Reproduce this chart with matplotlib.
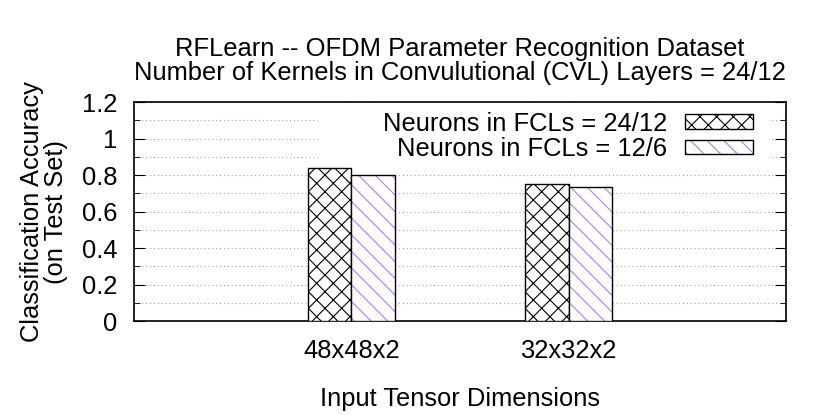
import numpy as np
import matplotlib.pyplot as plt
from matplotlib.patches import Rectangle
from matplotlib.legend_handler import HandlerTuple

plt.rcParams['font.family'] = ['Liberation Sans', 'DejaVu Sans']
plt.rcParams['hatch.linewidth'] = 0.8

dims = ['48x48x2', '32x32x2']
acc_24_12 = [0.84, 0.75]
acc_12_6 = [0.80, 0.735]
labels = ['Neurons in FCLs = 24/12', 'Neurons in FCLs = 12/6']

violet = '#b57cf2'
fs = 18.4

fig = plt.figure(figsize=(8.3, 4.15), dpi=100)
ax = fig.add_axes([134/830, 94/415, 652/830, 219/415])

x = np.arange(len(dims))
w = 0.2
b1 = ax.bar(x - w/2, acc_24_12, w, color='white', edgecolor='black',
            hatch='xx', linewidth=1.0, zorder=3)
b2h = ax.bar(x + w/2, acc_12_6, w, color='white', edgecolor=violet,
             hatch='\\\\', linewidth=0, zorder=3)
b2e = ax.bar(x + w/2, acc_12_6, w, fill=False, edgecolor='black',
             linewidth=1.0, zorder=4)

ax.set_xlim(-1, 2)
ax.set_ylim(0, 1.2)
ax.set_xticks(x)
ax.set_xticklabels(dims, fontsize=fs)
ax.set_yticks(np.arange(0, 1.21, 0.2))
ax.set_yticklabels(['0', '0.2', '0.4', '0.6', '0.8', '1', '1.2'], fontsize=fs)
ax.set_yticks(np.arange(0.1, 1.2, 0.2), minor=True)
ax.tick_params(axis='both', which='both', direction='in', top=True, right=True)
ax.tick_params(axis='y', which='major', length=8, pad=12)
ax.tick_params(axis='y', which='minor', length=4)
ax.tick_params(axis='x', which='major', length=8, pad=13)
ax.grid(axis='y', which='both', linestyle=(0, (1, 2.5)), color='#a8a8a8',
        linewidth=0.8, zorder=0)
ax.set_axisbelow(True)
for s in ax.spines.values():
    s.set_linewidth(1.2)

# opaque key background
ax.add_patch(Rectangle(((318-134)/652, (321-165)/219), (769-318)/652,
                       (165-103)/219, transform=ax.transAxes,
                       facecolor='white', edgecolor='none', zorder=2))

leg = ax.legend([b1[0], (b2h[0], b2e[0])], labels,
                handler_map={tuple: HandlerTuple(ndivide=1)},
                loc='upper right', bbox_to_anchor=(0.949, 0.955),
                markerfirst=False, frameon=False, fontsize=fs,
                handlelength=2.65, handleheight=0.5, handletextpad=0.7,
                labelspacing=0.05, borderpad=0, borderaxespad=0)
leg.set_zorder(5)

ax.set_xlabel('Input Tensor Dimensions', fontsize=fs, labelpad=17)
ax.set_ylabel('Classification Accuracy\n(on Test Set)', fontsize=fs,
              labelpad=10, linespacing=1.0)
ax.set_title('RFLearn -- OFDM Parameter Recognition Dataset\n'
             'Number of Kernels in Convulutional (CVL) Layers = 24/12',
             fontsize=fs, pad=16, linespacing=1.0)

fig.savefig('out.png', dpi=100)
